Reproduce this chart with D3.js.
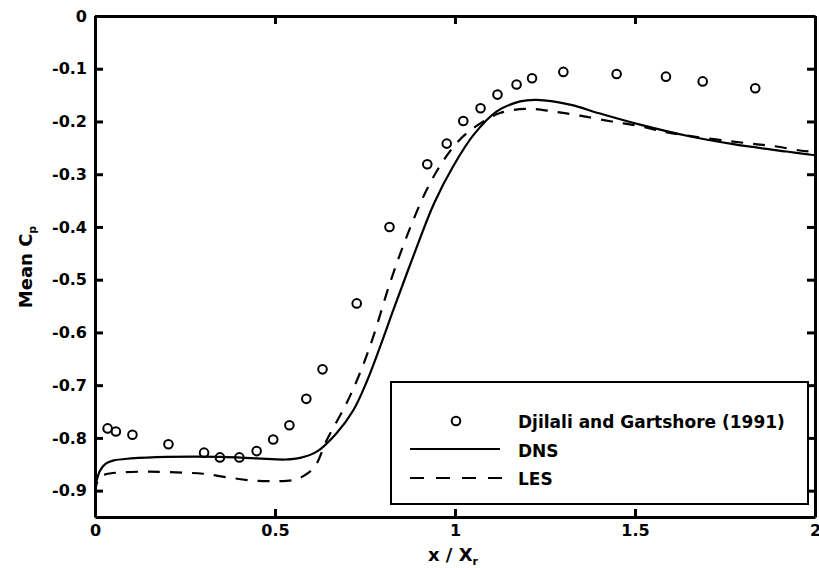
<!DOCTYPE html>
<html>
<head>
<meta charset="utf-8">
<script src="https://cdn.jsdelivr.net/npm/d3@7"></script>
<style>
    body { margin: 0; background: #fff; }
    svg { display: block; font-family: "DejaVu Sans", sans-serif; font-weight: bold; }
</style>
</head>
<body>
<div id="chart"></div>
<script>
// Experimental points (Djilali and Gartshore 1991)
const expX = [0.035, 0.058, 0.104, 0.204, 0.303, 0.347, 0.401, 0.449, 0.495, 0.540, 0.587, 0.632, 0.727,
    0.818, 0.923, 0.977, 1.023, 1.071, 1.118, 1.171, 1.214, 1.301, 1.449, 1.586, 1.688, 1.834];
const expY = [-0.782, -0.788, -0.794, -0.812, -0.828, -0.837, -0.837, -0.825, -0.803, -0.776, -0.726, -0.670, -0.545,
    -0.400, -0.281, -0.242, -0.199, -0.175, -0.149, -0.130, -0.118, -0.106, -0.110, -0.115, -0.124, -0.137];

// DNS curve
const dnsX = [0, 0.005, 0.014, 0.03, 0.05, 0.1, 0.2, 0.35, 0.45, 0.53, 0.57, 0.616, 0.671, 0.718, 0.755, 0.792,
    0.829, 0.884, 0.942, 0.995, 1.051, 1.116, 1.181, 1.227, 1.319, 1.403, 1.514, 1.644, 1.773, 1.921, 2.0];
const dnsY = [-0.90, -0.88, -0.862, -0.849, -0.843, -0.839, -0.836, -0.836, -0.839, -0.841, -0.838, -0.826, -0.791,
    -0.747, -0.693, -0.627, -0.557, -0.456, -0.355, -0.285, -0.226, -0.181, -0.162, -0.159, -0.168, -0.185,
    -0.206, -0.227, -0.243, -0.257, -0.264];

// LES curve
const lesX = [0, 0.005, 0.014, 0.03, 0.06, 0.15, 0.25, 0.3, 0.37, 0.44, 0.5, 0.55, 0.58, 0.61, 0.644, 0.699,
    0.736, 0.773, 0.819, 0.866, 0.921, 0.968, 1.014, 1.065, 1.125, 1.199, 1.273, 1.347, 1.435, 1.514, 1.6,
    1.82, 1.889, 1.958, 2.0];
const lesY = [-0.905, -0.886, -0.874, -0.869, -0.866, -0.864, -0.866, -0.868, -0.875, -0.881, -0.882, -0.88,
    -0.872, -0.855, -0.804, -0.734, -0.677, -0.608, -0.507, -0.418, -0.330, -0.274, -0.234, -0.206, -0.184,
    -0.176, -0.181, -0.189, -0.200, -0.209, -0.222, -0.242, -0.247, -0.255, -0.258];

const xTicks = [0, 0.5, 1, 1.5, 2];
const xTickLabels = ["0", "0.5", "1", "1.5", "2"];
const yTicks = [0, -0.1, -0.2, -0.3, -0.4, -0.5, -0.6, -0.7, -0.8, -0.9];
const yTickLabels = ["0", "-0.1", "-0.2", "-0.3", "-0.4", "-0.5", "-0.6", "-0.7", "-0.8", "-0.9"];
const legendLabels = ["Djilali and Gartshore (1991)", "DNS", "LES"];

const width = 819, height = 568;
const x = d3.scaleLinear().domain([0, 2]).range([95, 815]);
const y = d3.scaleLinear().domain([-0.95, 0]).range([517, 16]);

const svg = d3.select("#chart").append("svg")
    .attr("width", width)
    .attr("height", height);

// curves
const line = d3.line()
    .x(d => x(d[0]))
    .y(d => y(d[1]))
    .curve(d3.curveCatmullRom.alpha(0.5));

svg.append("path")
    .datum(dnsX.map((v, i) => [v, dnsY[i]]))
    .attr("d", line)
    .attr("fill", "none")
    .attr("stroke", "#000")
    .attr("stroke-width", 2.2);

svg.append("path")
    .datum(lesX.map((v, i) => [v, lesY[i]]))
    .attr("d", line)
    .attr("fill", "none")
    .attr("stroke", "#000")
    .attr("stroke-width", 2.2)
    .attr("stroke-dasharray", "12,10");

svg.append("g")
    .selectAll("circle")
    .data(expX.map((v, i) => [v, expY[i]]))
    .join("circle")
    .attr("cx", d => x(d[0]))
    .attr("cy", d => y(d[1]))
    .attr("r", 4.3)
    .attr("fill", "none")
    .attr("stroke", "#000")
    .attr("stroke-width", 2);

// legend
const lg = svg.append("g");
lg.append("rect")
    .attr("x", 391).attr("y", 382)
    .attr("width", 417).attr("height", 122)
    .attr("fill", "#fff")
    .attr("stroke", "#000")
    .attr("stroke-width", 2);
lg.append("circle")
    .attr("cx", 456).attr("cy", 421).attr("r", 4.3)
    .attr("fill", "none").attr("stroke", "#000").attr("stroke-width", 2);
lg.append("line")
    .attr("x1", 410).attr("x2", 500).attr("y1", 449).attr("y2", 449)
    .attr("stroke", "#000").attr("stroke-width", 2.2);
lg.append("line")
    .attr("x1", 410).attr("x2", 502).attr("y1", 478).attr("y2", 478)
    .attr("stroke", "#000").attr("stroke-width", 2.2)
    .attr("stroke-dasharray", "14,12");
lg.selectAll("text")
    .data(legendLabels)
    .join("text")
    .attr("x", 518)
    .attr("y", (d, i) => 428 + i * 28.5)
    .attr("font-size", 17)
    .text(d => d);

// axes
const axisStyle = g => {
    g.select(".domain").attr("stroke-width", 3);
    g.selectAll(".tick line").attr("stroke-width", 3);
    g.selectAll(".tick text")
        .attr("font-size", 16)
        .attr("font-family", "DejaVu Sans, sans-serif")
        .attr("font-weight", "bold")
        .attr("fill", "#000");
};

svg.append("g")
    .attr("transform", `translate(0,${y(-0.95)})`)
    .call(d3.axisBottom(x).tickValues(xTicks)
        .tickFormat((d, i) => xTickLabels[i])
        .tickSize(-8).tickSizeOuter(0).tickPadding(8))
    .call(axisStyle);

svg.append("g")
    .attr("transform", `translate(0,${y(0)})`)
    .call(d3.axisTop(x).tickValues(xTicks).tickFormat("")
        .tickSize(-8).tickSizeOuter(0))
    .call(axisStyle);

svg.append("g")
    .attr("transform", `translate(${x(0)},0)`)
    .call(d3.axisLeft(y).tickValues(yTicks)
        .tickFormat((d, i) => yTickLabels[i])
        .tickSize(-8).tickSizeOuter(0).tickPadding(8))
    .call(axisStyle);

svg.append("g")
    .attr("transform", `translate(${x(2)},0)`)
    .call(d3.axisRight(y).tickValues(yTicks).tickFormat("")
        .tickSize(-8).tickSizeOuter(0))
    .call(axisStyle);

// axis titles
const xt = svg.append("text")
    .attr("x", 453).attr("y", 561)
    .attr("text-anchor", "middle")
    .attr("font-size", 18);
xt.append("tspan").text("x / X");
xt.append("tspan").attr("font-size", 11).attr("dy", 4).text("r");

const yt = svg.append("text")
    .attr("transform", "translate(32,267) rotate(-90)")
    .attr("text-anchor", "middle")
    .attr("font-size", 18);
yt.append("tspan").text("Mean C");
yt.append("tspan").attr("font-size", 11).attr("dy", 4).text("p");
</script>
</body>
</html>
